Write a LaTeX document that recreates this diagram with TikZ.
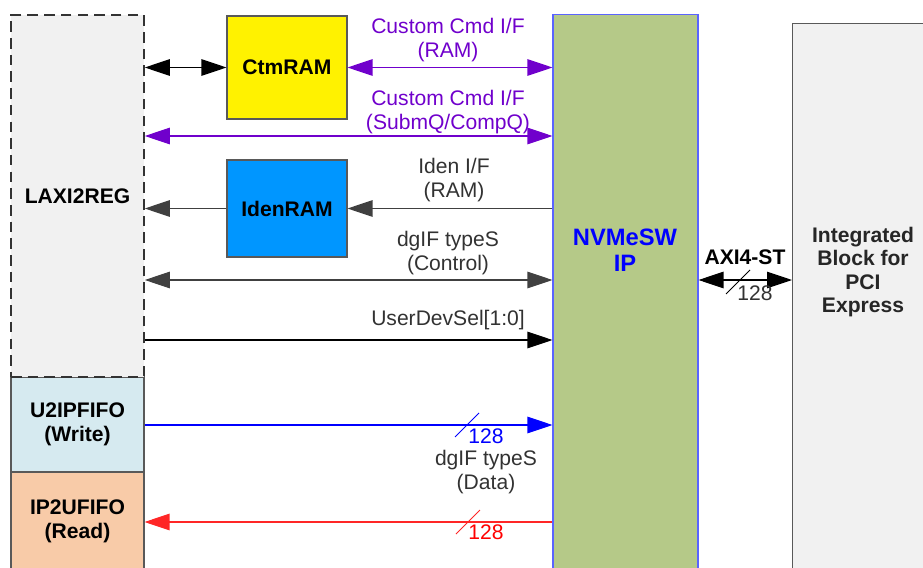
\documentclass[tikz,border=0pt]{standalone}
\usepackage{fontspec}
\setmainfont{Liberation Sans}
\usetikzlibrary{arrows.meta}

\definecolor{cmdpurple}{RGB}{112,0,204}
\definecolor{ipgreen}{RGB}{181,201,136}
\definecolor{ipborder}{RGB}{90,100,255}
\definecolor{idenblue}{RGB}{0,150,255}
\definecolor{wrblue}{RGB}{214,234,240}
\definecolor{rdpeach}{RGB}{248,203,168}
\definecolor{boxgray}{RGB}{241,241,241}
\definecolor{txtgray}{RGB}{50,50,50}

\begin{document}
\begin{tikzpicture}[x=0.02cm,y=-0.02cm,
    >={Triangle[length=5mm,width=3.3mm]},
    txt/.style={font={\fontsize{12}{13.5}\selectfont},align=center,text=txtgray},
    block/.style={draw=black!65,line width=.6pt,inner sep=0pt,
        font={\fontsize{12}{13.5}\selectfont\bfseries},align=center},
    sig/.style={line width=.6pt},
    ]
    \useasboundingbox (0,0) rectangle (923,568);

    % FIFOs
    \node[block,fill=wrblue,minimum width=2.66cm,minimum height=1.9cm]
        (u2ip) at (77.5,424.5) {U2IPFIFO\\(Write)};
    \node[block,fill=rdpeach,minimum width=2.66cm,minimum height=1.96cm]
        (ip2u) at (77.5,521) {IP2UFIFO\\(Read)};
    % User logic
    \node[block,fill=boxgray,draw=black!80,dash pattern=on 6pt off 3.5pt,line width=.9pt,
        minimum width=2.66cm,minimum height=7.24cm] (laxi) at (77.5,196) {LAXI2REG};
    % RAMs
    \node[block,fill=yellow,minimum width=2.4cm,minimum height=2.06cm]
        (ctm) at (287,67.5) {CtmRAM};
    \node[block,fill=idenblue,minimum width=2.4cm,minimum height=1.94cm]
        (iden) at (287,208.5) {IdenRAM};
    % IP core
    \node[block,draw=ipborder,fill=ipgreen,minimum width=2.9cm,minimum height=11.22cm]
        (nvme) at (625.5,294.5) {};
    \node[font={\fontsize{13.5}{15}\selectfont\bfseries},align=center,text=blue]
        (nvmelbl) at (625,250) {NVMeSW\\IP};
    % PCIe hard block
    \node[block,fill=boxgray,anchor=north west,minimum width=2.8cm,minimum height=11.04cm]
        (pcie) at (792,23) {};
    \node[txt,font={\fontsize{12}{13.3}\selectfont\bfseries},text=black!85]
        (pcielbl) at (863,272) {Integrated\\Block for\\PCI\\Express};

    % Row levels
    \coordinate (r2) at (0,136);
    \coordinate (r4) at (0,280);
    \coordinate (r5) at (0,340);
    \coordinate (r6) at (0,425);
    \coordinate (r7) at (0,522);

    % Custom command interface
    \draw[sig,<->] (laxi.east |- ctm) -- (ctm.west);
    \draw[sig,cmdpurple,<->] (ctm.east) -- (nvme.west |- ctm);
    \draw[sig,cmdpurple,<->] (laxi.east |- r2) -- (nvme.west |- r2);
    \node[txt,text=cmdpurple] (ctmif) at (448,40) {Custom Cmd I/F\\(RAM)};
    \node[txt,text=cmdpurple] (cmdif) at (448,112) {Custom Cmd I/F\\(SubmQ/CompQ)};

    % Identify interface
    \draw[sig,black!75,->] (nvme.west |- iden) -- (iden.east);
    \draw[sig,black!75,->] (iden.west) -- (laxi.east |- iden);
    \node[txt] (idenif) at (454,180) {Iden I/F\\(RAM)};

    % Control and device select
    \draw[sig,black!75,<->] (laxi.east |- r4) -- (nvme.west |- r4);
    \node[txt] (ctlif) at (448,253) {dgIF typeS\\(Control)};
    \draw[sig,->] (laxi.east |- r5) -- (nvme.west |- r5);
    \node[txt] (devsel) at (448,320) {UserDevSel[1:0]};

    % Data path
    \draw[sig,blue,->] (u2ip.east |- r6) -- (nvme.west |- r6);
    \draw[blue,line width=.5pt] (467,425) ++(-12,12) -- ++(24,-24);
    \node[txt,text=blue] (wrwidth) at (486,436) {128};
    \node[txt] (dataif) at (486,472) {dgIF typeS\\(Data)};
    \draw[sig,red!85,<-] (ip2u.east |- r7) -- (nvme.west |- r7);
    \draw[red!85,line width=.5pt] (468,522) ++(-12,12) -- ++(24,-24);
    \node[txt,text=red] (rdwidth) at (486,532) {128};

    % AXI4-ST
    \draw[sig,<->] (nvme.east |- r4) -- (pcie.west |- r4);
    \draw[line width=.5pt] (738,282) ++(-12,12) -- ++(24,-24);
    \node[txt] (axiwidth) at (755,293) {128};
    \node[txt,font={\fontsize{12}{13.5}\selectfont\bfseries},text=black]
        (axi) at (745,257) {AXI4-ST};
\end{tikzpicture}
\end{document}
